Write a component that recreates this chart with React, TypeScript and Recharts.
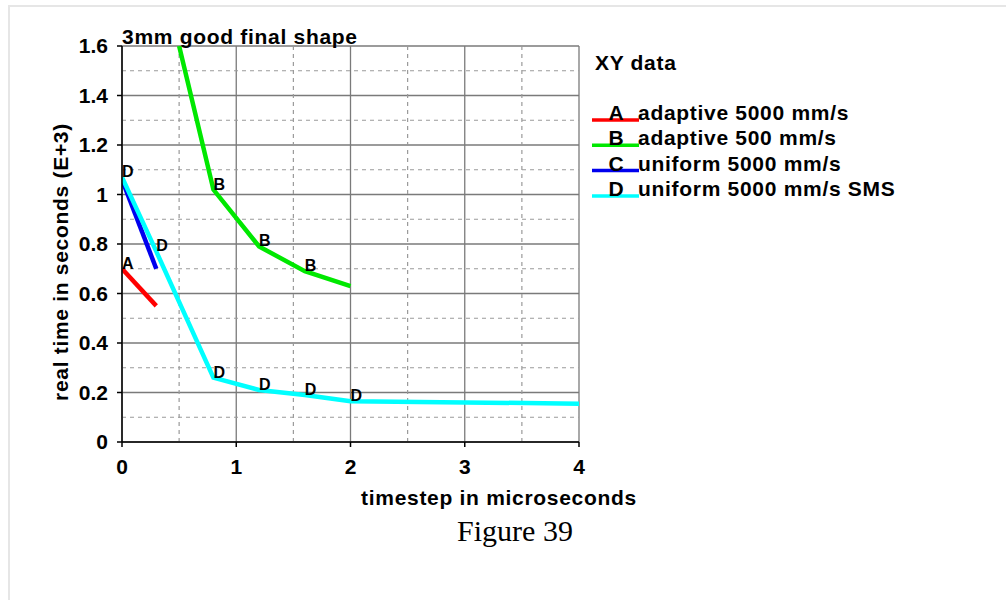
import React from "react";
import { LineChart, Line, XAxis, YAxis, CartesianGrid, ReferenceLine, LabelList } from "recharts";

// series values
const xA = [0, 0.3];
const yA = [0.7, 0.55];
const labA = ["A", ""];

const xB = [0.5, 0.8, 1.2, 1.6, 2.0];
const yB = [1.6, 1.02, 0.79, 0.69, 0.63];
const labB = ["", "B", "B", "B", ""];

const xC = [0, 0.3];
const yC = [1.06, 0.7];
const labC = ["", ""];

const xD = [0, 0.3, 0.8, 1.2, 1.6, 2, 3, 4];
const yD = [1.07, 0.77, 0.26, 0.21, 0.19, 0.165, 0.16, 0.155];
const labD = ["D", "D", "D", "D", "D", "D", "", ""];

const xTicks = [0, 1, 2, 3, 4];
const yTicks = [0, 0.2, 0.4, 0.6, 0.8, 1, 1.2, 1.4, 1.6];
const xMinor = [0.5, 1.5, 2.5, 3.5];
const yMinor = [0.1, 0.3, 0.5, 0.7, 0.9, 1.1, 1.3, 1.5];

const letters = ["A", "B", "C", "D"];
const names = ["adaptive 5000 mm/s", "adaptive 500 mm/s", "uniform 5000 mm/s", "uniform 5000 mm/s SMS"];
const colors = ["#ff0000", "#00e800", "#0000ee", "#00ffff"];

const build = (xs: number[], ys: number[], labs: string[]) =>
  xs.map((t, i) => ({ t, v: ys[i], lab: labs[i] }));

const series = [
  build(xA, yA, labA),
  build(xB, yB, labB),
  build(xC, yC, labC),
  build(xD, yD, labD),
];

const FONT = "'Liberation Sans', Arial, sans-serif";

function PointLetter(props: any) {
  const { x, y, value } = props;
  if (!value) return null;
  return (
    <text x={x} y={y} fontSize={16} fontWeight="bold" fontFamily={FONT} fill="#000">
      {value}
    </text>
  );
}

const fmt = (v: number) => String(Number(v.toFixed(1)));

const textBase: React.CSSProperties = {
  position: "absolute",
  fontFamily: FONT,
  fontWeight: "bold",
  fontSize: 21,
  letterSpacing: 0.7,
  color: "#000",
  whiteSpace: "nowrap",
  lineHeight: 1,
};

export default function App() {
  return (
    <div style={{ position: "absolute", left: 0, top: 0, width: 1006, height: 600, background: "#fff", overflow: "hidden" }}>
      <div
        style={{
          position: "absolute",
          left: 8,
          top: 5,
          width: 1010,
          height: 610,
          borderLeft: "2px solid #e6e6e6",
          borderTop: "2px solid #e6e6e6",
        }}
      />

      <div style={{ position: "absolute", left: 0, top: 0 }}>
        <LineChart width={1006} height={600} margin={{ top: 46, right: 427, left: 62, bottom: 128 }}>
          <CartesianGrid stroke="#7a7a7a" strokeWidth={1.3} />
          {xMinor.map((v) => (
            <ReferenceLine key={"x" + v} x={v} stroke="#9a9a9a" strokeWidth={1.2} strokeDasharray="4 4" />
          ))}
          {yMinor.map((v) => (
            <ReferenceLine key={"y" + v} y={v} stroke="#9a9a9a" strokeWidth={1.2} strokeDasharray="4 4" />
          ))}
          <XAxis
            type="number"
            dataKey="t"
            domain={[0, 4]}
            ticks={xTicks}
            allowDataOverflow
            height={30}
            tickSize={5}
            tickMargin={12}
            stroke="#000"
            strokeWidth={1.5}
            tick={{ fontSize: 21, fontWeight: "bold", fontFamily: FONT, fill: "#000" }}
          />
          <YAxis
            type="number"
            domain={[0, 1.6]}
            ticks={yTicks}
            allowDataOverflow
            width={60}
            tickSize={5}
            tickMargin={9}
            tickFormatter={fmt}
            stroke="#000"
            strokeWidth={1.5}
            tick={{ fontSize: 21, fontWeight: "bold", fontFamily: FONT, fill: "#000" }}
          />
          {series.map((d, i) => (
            <Line
              key={letters[i]}
              data={d}
              dataKey="v"
              stroke={colors[i]}
              strokeWidth={4.5}
              dot={false}
              activeDot={false}
              type="linear"
              isAnimationActive={false}
            >
              <LabelList dataKey="lab" content={PointLetter} />
            </Line>
          ))}
        </LineChart>
      </div>

      <div style={{ ...textBase, left: 122, top: 26 }}>3mm good final shape</div>

      <div
        style={{
          ...textBase,
          left: 60,
          top: 262,
          transform: "translate(-50%, -50%) rotate(-90deg)",
        }}
      >
        real time in seconds (E+3)
      </div>

      <div style={{ ...textBase, left: 499, top: 497, transform: "translate(-50%, -50%)" }}>
        timestep in microseconds
      </div>

      <div
        style={{
          position: "absolute",
          left: 515,
          top: 531,
          transform: "translate(-50%, -50%)",
          fontFamily: "'Liberation Serif', 'Times New Roman', serif",
          fontSize: 30,
          lineHeight: 1,
          color: "#000",
          whiteSpace: "nowrap",
        }}
      >
        Figure 39
      </div>

      <svg style={{ position: "absolute", left: 0, top: 0 }} width={1006} height={600}>
        <text x={595} y={70} fontSize={21} fontWeight="bold" fontFamily={FONT} letterSpacing={0.7} fill="#000">
          XY data
        </text>
        {letters.map((l, i) => {
          const y = 120 + i * 25.3;
          return (
            <g key={l}>
              <line x1={592} x2={639} y1={y} y2={y} stroke={colors[i]} strokeWidth={3.5} />
              <text x={616} y={y} textAnchor="middle" fontSize={21} fontWeight="bold" fontFamily={FONT} fill="#000">
                {l}
              </text>
              <text x={638} y={y} fontSize={21} fontWeight="bold" fontFamily={FONT} letterSpacing={0.7} fill="#000">
                {names[i]}
              </text>
            </g>
          );
        })}
      </svg>
    </div>
  );
}
